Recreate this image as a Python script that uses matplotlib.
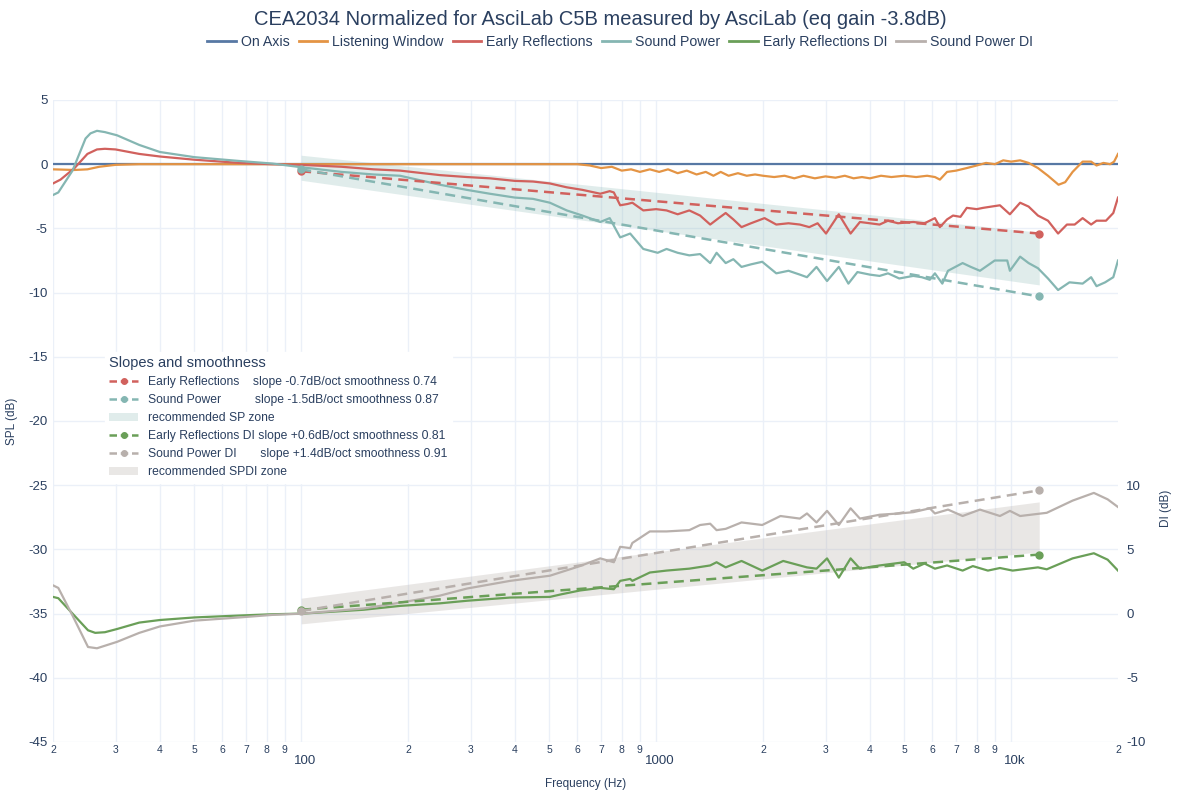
import numpy as np
import matplotlib
matplotlib.use('Agg')
import matplotlib.pyplot as plt
import matplotlib.transforms as mtransforms
from matplotlib.lines import Line2D
from matplotlib.patches import Patch

plt.rcParams['font.family'] = ['Liberation Sans', 'DejaVu Sans']
plt.rcParams['axes.unicode_minus'] = False
txt = '#2a3f5f'
grid = '#ebf0f8'

# --- data (freq in Hz, SPL in dB, DI in dB) ---
on_freq = [20, 20000]
on_spl = [0.0, 0.0]

lw_freq = [20, 23, 25, 27, 30, 35, 100, 300, 600, 650, 700, 750, 800, 850, 900, 960, 1020, 1080,
           1150, 1220, 1300, 1380, 1450, 1520, 1600, 1700, 1800, 1900, 2000, 2150, 2300, 2450, 2600,
           2800, 3000, 3200, 3400, 3600, 3800, 4000, 4300, 4600, 5000, 5400, 5800, 6100, 6300, 6600,
           7000, 7500, 8000, 8500, 9000, 9500, 10000, 10600, 11200, 11900, 12700, 13600, 14200, 14900,
           15900, 16800, 17400, 18200, 19000, 19500, 20000]
lw_spl = [-0.4, -0.45, -0.4, -0.2, -0.05, 0.0, 0.0, 0.0, 0.0, -0.1, -0.3, -0.2, -0.5, -0.4, -0.6, -0.4,
          -0.6, -0.4, -0.7, -0.5, -0.8, -0.6, -0.9, -0.6, -0.9, -0.7, -0.9, -0.8, -0.9, -1.0, -0.9, -1.1,
          -0.9, -1.1, -0.95, -1.05, -0.9, -1.1, -1.0, -1.1, -0.9, -1.0, -0.9, -1.0, -0.9, -1.0, -1.2,
          -0.6, -0.5, -0.3, -0.1, 0.1, 0.0, 0.3, 0.2, 0.3, 0.1, -0.3, -0.9, -1.6, -1.4, -0.6, 0.2, 0.2,
          -0.1, 0.1, 0.0, 0.2, 0.8]

er_freq = [20, 21, 23, 25, 26.6, 28, 30, 35, 40, 50, 67, 83, 100, 130, 160, 190, 246, 293, 340, 400,
           450, 502, 560, 620, 696, 740, 760, 792, 830, 857, 920, 1000, 1070, 1150, 1240, 1330, 1420,
           1500, 1570, 1650, 1740, 1850, 2020, 2180, 2360, 2540, 2700, 2850, 3010, 3270, 3530, 3750,
           4000, 4260, 4500, 4800, 5300, 5700, 6100, 6300, 6600, 6860, 7200, 7500, 8000, 8340, 8800,
           9300, 9920, 10600, 11200, 11900, 12700, 13560, 14360, 15100, 15900, 16800, 17400, 18500,
           19400, 20000]
er_spl = [-1.5, -1.2, -0.3, 0.8, 1.15, 1.2, 1.15, 0.8, 0.6, 0.35, 0.1, 0.0, -0.05, -0.2, -0.4, -0.5,
          -0.85, -1.0, -1.1, -1.3, -1.35, -1.5, -1.8, -2.0, -2.3, -2.1, -2.2, -3.2, -3.1, -3.0, -3.6,
          -3.5, -3.6, -3.9, -3.6, -4.0, -4.7, -4.2, -3.8, -4.3, -4.9, -4.6, -4.2, -4.7, -4.6, -4.7,
          -4.9, -4.6, -5.4, -3.9, -5.4, -4.5, -4.6, -4.7, -4.4, -4.6, -4.5, -4.6, -4.2, -4.9, -4.3,
          -4.0, -4.1, -3.4, -3.5, -3.4, -3.3, -3.2, -3.9, -3.0, -3.3, -4.0, -4.4, -5.4, -4.7, -4.7,
          -4.2, -4.7, -4.4, -4.4, -3.8, -2.6]

sp_freq = [20, 20.7, 22.7, 24.7, 25.5, 26.6, 28, 30.3, 35, 40, 50, 67, 83, 101, 130, 160, 190, 246,
           293, 340, 400, 450, 502, 560, 620, 696, 740, 792, 845, 920, 1010, 1070, 1150, 1240, 1330,
           1420, 1480, 1570, 1650, 1740, 1850, 1990, 2180, 2360, 2540, 2660, 2830, 3030, 3270, 3480,
           3690, 4000, 4260, 4500, 4840, 5300, 5600, 5900, 6100, 6400, 6640, 7300, 7700, 8170, 8990,
           9750, 9920, 10600, 11200, 11900, 12700, 13560, 14600, 15900, 16800, 17400, 18400, 19400,
           20000]
sp_spl = [-2.4, -2.2, -0.5, 2.0, 2.4, 2.6, 2.5, 2.25, 1.5, 0.95, 0.55, 0.25, 0.05, -0.25, -0.6, -0.8,
          -0.9, -1.6, -2.0, -2.3, -2.6, -2.7, -3.0, -3.6, -4.0, -4.5, -4.2, -5.7, -5.4, -6.6, -6.9,
          -6.6, -6.9, -7.1, -7.0, -7.7, -6.9, -7.7, -7.4, -8.0, -7.8, -7.6, -8.5, -8.3, -8.6, -8.8,
          -8.0, -9.1, -8.0, -9.3, -8.4, -8.6, -8.7, -8.5, -8.9, -8.7, -8.8, -9.0, -8.5, -9.3, -8.3,
          -7.7, -8.0, -8.3, -7.5, -7.5, -8.3, -7.2, -7.7, -8.1, -8.9, -9.8, -9.2, -9.3, -8.8, -9.5,
          -9.2, -8.8, -7.5]

erdi_freq = [20, 20.7, 22.7, 25.1, 26.3, 28, 30.3, 35, 40, 50, 67, 83, 101, 150, 190, 246, 293, 388,
             502, 540, 610, 696, 760, 792, 845, 857, 960, 1070, 1240, 1420, 1480, 1570, 1740, 1990,
             2280, 2540, 2660, 2830, 3030, 3270, 3530, 3750, 4260, 5000, 5300, 5700, 6100, 6600, 7300,
             7800, 8600, 9300, 10100, 11900, 12600, 14900, 17100, 18700, 20000]
erdi_di = [1.3, 1.2, 0.0, -1.3, -1.5, -1.45, -1.2, -0.7, -0.5, -0.3, -0.15, -0.05, 0.0, 0.3, 0.6, 0.8,
           1.0, 1.25, 1.3, 1.5, 1.8, 2.0, 1.9, 2.55, 2.7, 2.55, 3.2, 3.35, 3.5, 3.75, 4.0, 3.6, 4.1,
           3.35, 4.1, 3.75, 3.6, 3.5, 4.3, 2.8, 4.3, 3.5, 3.75, 4.0, 3.5, 3.9, 3.5, 3.75, 3.35, 3.7,
           3.35, 3.55, 3.35, 3.6, 3.45, 4.3, 4.7, 4.2, 3.35]

spdi_freq = [20, 20.7, 22.7, 25.1, 26.6, 30.3, 35, 40, 50, 67, 83, 101, 150, 190, 246, 293, 388, 502,
             610, 696, 760, 792, 845, 857, 960, 1070, 1240, 1330, 1420, 1480, 1570, 1740, 1990, 2240,
             2540, 2660, 2830, 3030, 3270, 3530, 3750, 4260, 4840, 5300, 5900, 6100, 6640, 7300, 8170,
             9300, 9920, 10600, 12600, 14900, 17100, 18700, 20000]
spdi_di = [2.2, 2.0, -0.15, -2.6, -2.7, -2.2, -1.5, -1.0, -0.55, -0.3, -0.1, 0.0, 0.4, 0.85, 1.4, 1.95,
           2.55, 2.95, 3.7, 4.3, 4.0, 5.2, 5.1, 5.5, 6.4, 6.4, 6.5, 6.9, 7.0, 6.5, 6.6, 7.1, 6.9, 7.6,
           7.4, 7.8, 7.1, 8.0, 6.9, 8.2, 7.4, 7.7, 7.8, 7.9, 8.2, 7.8, 8.1, 7.6, 8.1, 7.6, 8.0, 7.6,
           7.85, 8.8, 9.4, 8.9, 8.3]

# regression lines and recommended zones (endpoints)
slope_freq = [100, 12000]
er_slope = [-0.55, -5.4]
sp_slope = [-0.4, -10.3]
erdi_slope = [0.3, 4.6]
spdi_slope = [0.2, 9.6]
sp_zone_hi = [0.7, -5.3]
sp_zone_lo = [-1.25, -9.4]
spdi_zone_hi = [1.2, 8.7]
spdi_zone_lo = [-0.8, 4.8]

colors = {'On Axis': '#5778a4', 'Listening Window': '#e49444', 'Early Reflections': '#d1615d',
          'Sound Power': '#85b6b2', 'Early Reflections DI': '#6a9f58', 'Sound Power DI': '#b8b0ac'}

fig = plt.figure(figsize=(12, 8), dpi=100)
ax = fig.add_axes([53 / 1200, 58 / 800, 1065 / 1200, 642 / 800])
ax2 = ax.twinx()

for a in (ax, ax2):
    for s in a.spines.values():
        s.set_visible(False)
    a.set_xscale('log')
    a.set_xlim(20, 20000)

ax.set_ylim(-45, 5)
ax2.set_ylim(-10, 40)

# grid
ax.set_yticks(np.arange(-45, 6, 5))
ax.grid(False)
for v in np.arange(-45, 6, 5):
    ax.axhline(v, color=grid, lw=1, zorder=0)
vgrid = [d * m for m in (10, 100, 1000) for d in range(2, 10)] + [100, 1000, 10000]
for v in vgrid:
    ax.axvline(v, color=grid, lw=1, zorder=0)

# zones
ax.fill_between(slope_freq, sp_zone_lo, sp_zone_hi, color='#85b6b2', alpha=0.25, lw=0, zorder=1)
ax2.fill_between(slope_freq, spdi_zone_lo, spdi_zone_hi, color='#b8b0ac', alpha=0.3, lw=0, zorder=1)

lw = 1.6
ax.plot(on_freq, on_spl, color=colors['On Axis'], lw=lw, zorder=3)
ax.plot(lw_freq, lw_spl, color=colors['Listening Window'], lw=lw, zorder=3)
ax.plot(er_freq, er_spl, color=colors['Early Reflections'], lw=lw, zorder=3)
ax.plot(sp_freq, sp_spl, color=colors['Sound Power'], lw=lw, zorder=3)
ax2.plot(erdi_freq, erdi_di, color=colors['Early Reflections DI'], lw=lw, zorder=3)
ax2.plot(spdi_freq, spdi_di, color=colors['Sound Power DI'], lw=lw, zorder=3)

dash = dict(lw=1.8, dashes=(4, 2.5), marker='o', markersize=5, zorder=4)
ax.plot(slope_freq, er_slope, color=colors['Early Reflections'], **dash)
ax.plot(slope_freq, sp_slope, color=colors['Sound Power'], **dash)
ax2.plot(slope_freq, erdi_slope, color=colors['Early Reflections DI'], **dash)
ax2.plot(slope_freq, spdi_slope, color=colors['Sound Power DI'], **dash)

# ticks
ax.tick_params(axis='y', length=0, labelsize=9.5, labelcolor=txt, pad=4)
ax2.set_yticks([-10, -5, 0, 5, 10])
ax2.tick_params(axis='y', length=0, labelsize=9.5, labelcolor=txt, pad=6)
minor = [d * m for m in (10, 100, 1000) for d in range(2, 10)] + [20000]
ax.set_xticks([100, 1000, 10000])
ax.set_xticklabels(['100', '1000', '10k'])
ax.set_xticks(minor, minor=True)
ax.set_xticklabels([str(int(m))[0] for m in minor], minor=True)
ax.tick_params(axis='x', which='major', length=0, labelsize=9.5, labelcolor=txt, pad=9)
ax.tick_params(axis='x', which='minor', length=0, labelsize=7.5, labelcolor=txt, pad=2)
shift = mtransforms.ScaledTranslation(4 / 100, 0, fig.dpi_scale_trans)
for t in ax.get_xticklabels():
    t.set_transform(t.get_transform() + shift)
ax2.tick_params(axis='x', which='both', length=0)

ax.set_xlabel('Frequency (Hz)', fontsize=8.5, color=txt, labelpad=8)
ax.set_ylabel('SPL (dB)', fontsize=8.5, color=txt)
ax.yaxis.set_label_coords(-35 / 1065, 0.5)
ax2.set_ylabel('DI (dB)', fontsize=8.5, color=txt, rotation=90)
ax2.yaxis.set_label_coords((1160 - 53) / 1065, 0.364)

fig.suptitle('CEA2034 Normalized for AsciLab C5B measured by AsciLab (eq gain -3.8dB)',
             y=0.988, fontsize=14.5, color=txt, va='top')

handles = [Line2D([], [], color=c, lw=2) for c in colors.values()]
fig.legend(handles, list(colors.keys()), loc='upper center', bbox_to_anchor=(620 / 1200, 0.972),
           ncol=6, frameon=False, fontsize=10.2, handlelength=2.0, handletextpad=0.35,
           columnspacing=0.65, labelcolor=txt)

mk = dict(lw=1.8, dashes=(3, 1.5), marker='o', markersize=4)
h2 = [Line2D([], [], color=colors['Early Reflections'], **mk),
      Line2D([], [], color=colors['Sound Power'], **mk),
      Patch(color='#85b6b2', alpha=0.25, lw=0),
      Line2D([], [], color=colors['Early Reflections DI'], **mk),
      Line2D([], [], color=colors['Sound Power DI'], **mk),
      Patch(color='#b8b0ac', alpha=0.3, lw=0)]
l2 = ['Early Reflections    slope -0.7dB/oct smoothness 0.74',
      'Sound Power          slope -1.5dB/oct smoothness 0.87',
      'recommended SP zone',
      'Early Reflections DI slope +0.6dB/oct smoothness 0.81',
      'Sound Power DI       slope +1.4dB/oct smoothness 0.91',
      'recommended SPDI zone']
leg = ax2.legend(h2, l2, title='Slopes and smoothness', loc='upper left',
                 bbox_to_anchor=((105 - 53) / 1065, (742 - 352) / 642), fontsize=8.7,
                 title_fontsize=10.5, frameon=True, fancybox=False, edgecolor='white',
                 framealpha=1, labelcolor=txt, handlelength=2.4, handleheight=0.6,
                 labelspacing=0.5, borderpad=0.35, borderaxespad=0)
leg.get_title().set_color(txt)
leg._legend_box.align = 'left'
leg.set_zorder(10)

fig.savefig('out.png', dpi=100)
